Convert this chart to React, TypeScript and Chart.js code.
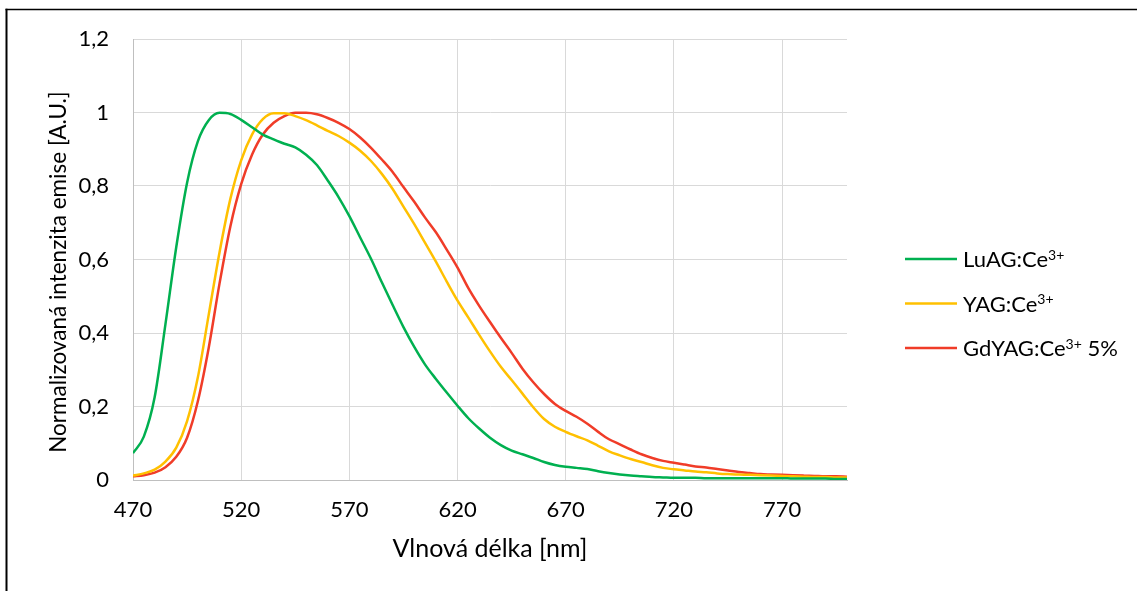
import React, { useEffect, useRef } from "react";
import { Chart, registerables } from "chart.js";

Chart.register(...registerables);

const wavelengths = [
  470, 475, 480, 485, 490, 495, 500, 505, 510, 515, 520, 525, 530, 535, 540, 545, 550, 555, 560, 565,
  570, 575, 580, 585, 590, 595, 600, 605, 610, 615, 620, 625, 630, 635, 640, 645, 650, 655, 660, 665,
  670, 675, 680, 685, 690, 695, 700, 705, 710, 715, 720, 725, 730, 735, 740, 745, 750, 755, 760, 765,
  770, 775, 780, 785, 790, 795, 800,
];

const luag = [
  0.073, 0.118, 0.225, 0.424, 0.634, 0.809, 0.922, 0.979, 0.999, 0.996, 0.98, 0.96, 0.94, 0.927, 0.915, 0.905, 0.885, 0.857, 0.815, 0.77,
  0.718, 0.66, 0.602, 0.538, 0.476, 0.416, 0.362, 0.314, 0.275, 0.238, 0.202, 0.168, 0.14, 0.115, 0.095, 0.08, 0.07, 0.06, 0.049, 0.041,
  0.036, 0.033, 0.03, 0.024, 0.019, 0.015, 0.012, 0.01, 0.008, 0.007, 0.006, 0.006, 0.006, 0.005, 0.005, 0.005, 0.005, 0.005, 0.005, 0.005,
  0.005, 0.004, 0.004, 0.004, 0.004, 0.003, 0.003,
];

const yag = [
  0.012, 0.018, 0.028, 0.05, 0.088, 0.16, 0.28, 0.45, 0.62, 0.765, 0.87, 0.94, 0.982, 0.998, 0.998, 0.99, 0.979, 0.965, 0.95, 0.936,
  0.918, 0.896, 0.868, 0.833, 0.792, 0.744, 0.696, 0.645, 0.594, 0.54, 0.488, 0.442, 0.395, 0.35, 0.308, 0.272, 0.235, 0.198, 0.166, 0.145,
  0.131, 0.119, 0.108, 0.093, 0.078, 0.067, 0.057, 0.049, 0.04, 0.033, 0.029, 0.026, 0.023, 0.021, 0.018, 0.016, 0.015, 0.014, 0.013, 0.012,
  0.011, 0.01, 0.009, 0.008, 0.008, 0.007, 0.007,
];

const gdyag = [
  0.01, 0.013, 0.02, 0.035, 0.063, 0.115, 0.215, 0.36, 0.535, 0.69, 0.805, 0.885, 0.94, 0.972, 0.99, 0.999, 0.999, 0.995, 0.985, 0.972,
  0.955, 0.932, 0.904, 0.872, 0.838, 0.797, 0.757, 0.714, 0.674, 0.627, 0.578, 0.522, 0.474, 0.43, 0.387, 0.346, 0.303, 0.266, 0.234, 0.207,
  0.188, 0.172, 0.153, 0.131, 0.111, 0.097, 0.083, 0.07, 0.06, 0.052, 0.047, 0.042, 0.037, 0.034, 0.03, 0.026, 0.022, 0.019, 0.016, 0.015,
  0.014, 0.013, 0.012, 0.011, 0.01, 0.01, 0.009,
];

const seriesNames = ["LuAG:Ce³⁺", "YAG:Ce³⁺", "GdYAG:Ce³⁺ 5%"];
const seriesColors = ["#00b050", "#ffc000", "#f03c28"];

const xTickValues = [470, 520, 570, 620, 670, 720, 770];
const yTickValues = [0, 0.2, 0.4, 0.6, 0.8, 1, 1.2];
const yTickLabels = ["0", "0,2", "0,4", "0,6", "0,8", "1", "1,2"];

const xTitle = "Vlnová délka [nm]";
const yTitle = "Normalizovaná intenzita emise [A.U.]";

const FONT = "Lato";
const SUP: Record<string, string> = { "³": "3", "⁺": "+" };

function drawRichText(ctx: CanvasRenderingContext2D, text: string, x: number, y: number) {
  let cx = x;
  let buf = "";
  const flush = () => {
    if (!buf) return;
    ctx.font = `22px ${FONT}`;
    ctx.fillText(buf, cx, y);
    cx += ctx.measureText(buf).width;
    buf = "";
  };
  for (const ch of text) {
    if (SUP[ch]) {
      flush();
      ctx.font = `14px ${FONT}`;
      ctx.fillText(SUP[ch], cx, y - 5);
      cx += ctx.measureText(SUP[ch]).width;
    } else {
      buf += ch;
    }
  }
  flush();
}

const framePlugin = {
  id: "frame",
  beforeDraw(chart: any) {
    const ctx = chart.ctx;
    ctx.save();
    ctx.fillStyle = "#ffffff";
    ctx.fillRect(0, 0, chart.width, chart.height);
    ctx.strokeStyle = "#000000";
    ctx.lineWidth = 1.6;
    ctx.beginPath();
    ctx.moveTo(5.5, 9.5);
    ctx.lineTo(chart.width, 9.5);
    ctx.stroke();
    ctx.lineWidth = 2;
    ctx.beginPath();
    ctx.moveTo(6.5, 8.7);
    ctx.lineTo(6.5, chart.height);
    ctx.stroke();
    ctx.restore();
  },
};

const titlesPlugin = {
  id: "axisTitles",
  afterDraw(chart: any) {
    const ctx = chart.ctx;
    const area = chart.chartArea;
    ctx.save();
    ctx.fillStyle = "#000000";
    ctx.textAlign = "center";
    ctx.textBaseline = "middle";
    ctx.font = `25px ${FONT}`;
    ctx.fillText(xTitle, (area.left + area.right) / 2, 549);
    ctx.translate(59, 272);
    ctx.rotate(-Math.PI / 2);
    ctx.font = `22.5px ${FONT}`;
    ctx.fillText(yTitle, 0, 0);
    ctx.restore();
  },
};

const legendPlugin = {
  id: "customLegend",
  afterDraw(chart: any) {
    const ctx = chart.ctx;
    ctx.save();
    chart.data.datasets.forEach((ds: any, i: number) => {
      const y = 259 + i * 44.5;
      ctx.strokeStyle = ds.borderColor;
      ctx.lineWidth = 2.5;
      ctx.beginPath();
      ctx.moveTo(905, y);
      ctx.lineTo(957, y);
      ctx.stroke();
      ctx.fillStyle = "#000000";
      ctx.textBaseline = "middle";
      ctx.textAlign = "left";
      drawRichText(ctx, ds.label, 963, y + 1);
    });
    ctx.restore();
  },
};

export default function App() {
  const canvasRef = useRef<HTMLCanvasElement | null>(null);

  useEffect(() => {
    if (!canvasRef.current) return;
    const seriesValues = [luag, yag, gdyag];
    const chart = new Chart(canvasRef.current, {
      type: "line",
      data: {
        datasets: seriesValues.map((vals, i) => ({
          label: seriesNames[i],
          data: wavelengths.map((w, j) => ({ x: w, y: vals[j] })),
          borderColor: seriesColors[i],
          backgroundColor: seriesColors[i],
          borderWidth: 2.5,
          pointRadius: 0,
          cubicInterpolationMode: "monotone" as const,
          fill: false,
        })),
      },
      options: {
        responsive: false,
        animation: false,
        devicePixelRatio: 1,
        layout: { padding: { left: 0, top: 39, right: 290, bottom: 0 } },
        plugins: {
          legend: { display: false },
          tooltip: { enabled: false },
        },
        scales: {
          x: {
            type: "linear",
            min: 470,
            max: 800,
            afterBuildTicks: (s: any) => {
              s.ticks = xTickValues.map((v) => ({ value: v }));
            },
            afterFit: (s: any) => {
              s.height = 111;
            },
            ticks: {
              autoSkip: false,
              maxRotation: 0,
              padding: 17,
              color: "#000000",
              font: { family: FONT, size: 22 },
              callback: (v: any) => String(v),
            },
            grid: { color: "#d9d9d9", lineWidth: 1, drawTicks: false },
            border: { color: "#bfbfbf", width: 1 },
          },
          y: {
            min: 0,
            max: 1.2,
            afterBuildTicks: (s: any) => {
              s.ticks = yTickValues.map((v) => ({ value: v }));
            },
            afterFit: (s: any) => {
              s.width = 133;
            },
            ticks: {
              padding: 24,
              color: "#000000",
              font: { family: FONT, size: 22 },
              callback: (_v: any, idx: number) => yTickLabels[idx],
            },
            grid: { color: "#d9d9d9", lineWidth: 1, drawTicks: false },
            border: { color: "#bfbfbf", width: 1 },
          },
        },
      },
      plugins: [framePlugin, titlesPlugin, legendPlugin],
    });
    return () => chart.destroy();
  }, []);

  return (
    <div style={{ position: "fixed", left: 0, top: 0, width: 1137, height: 591 }}>
      <canvas ref={canvasRef} width={1137} height={591} style={{ display: "block", width: 1137, height: 591 }} />
    </div>
  );
}
